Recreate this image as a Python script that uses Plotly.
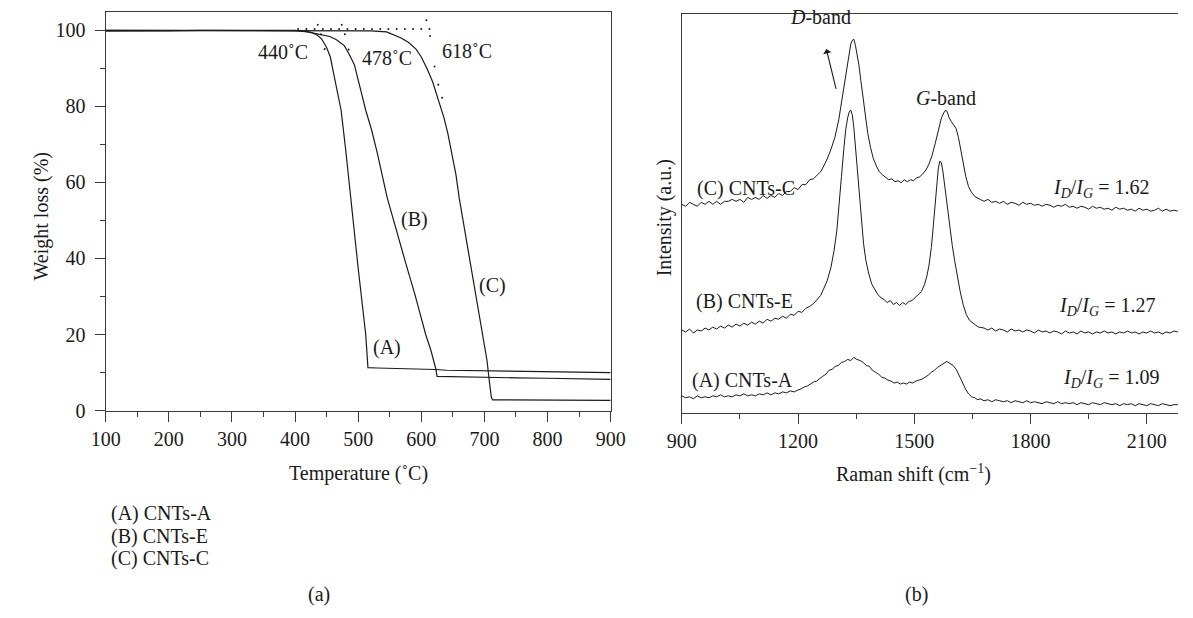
import plotly.graph_objects as go

W, H = 1193, 618
FONT = "Liberation Serif"
INK = "#1a1a1a"
AXIS = "#3a3a3a"
FS = 20

# ---------------- TGA data (panel a) ----------------
tga_a_temp = [100, 150, 200, 250, 300, 350, 380, 400, 415, 425, 435, 442, 450, 456, 462, 468,
              473, 480, 488, 500, 512, 514, 515.5, 530, 560, 590, 622, 640, 700, 760, 820, 880, 900]
tga_a_wt = [99.8, 99.8, 99.9, 100, 100, 100, 100, 100, 99.8, 99.5, 98.8, 97.8, 95.5, 93, 88, 83,
            79, 69, 56, 37.5, 20, 14, 11.3, 11.2, 11.1, 11.0, 10.8, 10.6, 10.5, 10.3, 10.2, 10.1, 10.0]

tga_b_temp = [100, 200, 300, 380, 403, 420, 440, 455, 465, 478, 485, 494, 503, 512, 521, 530,
              546, 560, 575, 590, 607, 615, 621, 623, 625, 650, 700, 750, 800, 850, 900]
tga_b_wt = [100, 100, 100, 100, 99.9, 99.6, 99.0, 98.4, 97.6, 96, 94, 91, 85, 79, 74, 68,
            56, 47.5, 39, 30.5, 20, 16, 12.4, 11, 9.0, 8.9, 8.8, 8.6, 8.5, 8.3, 8.2]

tga_c_temp = [100, 200, 300, 400, 480, 520, 545, 568, 580, 592, 600, 609, 618, 627, 636, 642,
              648, 655, 660, 670, 680, 690, 700, 704, 708, 711, 713, 750, 800, 850, 900]
tga_c_wt = [100, 100, 100, 100, 100, 99.9, 99.6, 98, 96.8, 95, 93, 90, 86.5, 82, 77, 73,
            68, 62, 56, 46.5, 37, 27.5, 17.5, 13.3, 7.5, 3.5, 2.8, 2.8, 2.75, 2.7, 2.7]

# onset construction points (extrapolated baseline and tangents)
onset_base_temp = [405, 418, 431, 444, 457, 470, 483, 496, 509, 522, 535, 548, 561, 574, 587, 600, 613]
onset_base_wt = [100.4] * len(onset_base_temp)
tangent_a_temp = [436, 441, 447]
tangent_a_wt = [101.5, 99.0, 95.1]
tangent_b_temp = [474, 479, 485]
tangent_b_wt = [101.5, 99.0, 95.0]
tangent_c_temp = [608, 614, 621, 627, 633]
tangent_c_wt = [102.7, 98.5, 90.5, 85.7, 82.3]

onset_labels = ["440˚C", "478˚C", "618˚C"]
onset_label_pos = [(381, 94.3), (545, 92.7), (672, 94.7)]
curve_tags = ["(A)", "(B)", "(C)"]
curve_tag_pos = [(546, 16.6), (590, 50.2), (713, 33.0)]
sample_names = ["(A) CNTs-A", "(B) CNTs-E", "(C) CNTs-C"]

# ---------------- Raman data (panel b): (shift cm-1, intensity a.u.) ----------------
raman_c = [
    (900, 212), (910, 210), (920, 214), (930, 212), (940, 210), (950, 214), (960, 212), (970, 215),
    (980, 212), (990, 215), (1000, 212), (1010, 215), (1020, 215), (1030, 217), (1040, 215),
    (1050, 217), (1060, 214), (1070, 219), (1080, 217), (1090, 219), (1100, 217), (1110, 221),
    (1120, 218), (1130, 221), (1140, 219), (1150, 223), (1160, 221), (1170, 225), (1180, 225),
    (1190, 229), (1200, 227), (1210, 232), (1220, 232), (1230, 237), (1240, 238), (1250, 242),
    (1258, 245), (1265, 250), (1275, 258), (1285, 268), (1295, 280), (1305, 298), (1313, 318),
    (1320, 336), (1326, 352), (1331, 366), (1336, 375), (1340, 379), (1344, 380), (1348, 374),
    (1352, 366), (1357, 354), (1362, 338), (1368, 320), (1374, 300), (1380, 284), (1387, 270),
    (1394, 259), (1402, 251), (1410, 245), (1418, 242), (1426, 239), (1434, 237), (1442, 238),
    (1450, 235), (1458, 236), (1466, 234), (1474, 237), (1482, 235), (1490, 237), (1498, 236),
    (1506, 239), (1514, 240), (1522, 243), (1530, 247), (1538, 253), (1546, 262), (1554, 274),
    (1562, 288), (1570, 300), (1576, 305), (1581, 308), (1585, 306), (1590, 300), (1596, 296),
    (1602, 293), (1608, 289), (1614, 280), (1620, 268), (1626, 254), (1633, 240), (1640, 230),
    (1648, 224), (1656, 220), (1664, 218), (1670, 217), (1680, 215), (1690, 217), (1700, 214),
    (1710, 215), (1720, 213), (1730, 215), (1740, 212), (1750, 214), (1760, 213), (1770, 211),
    (1780, 214), (1790, 212), (1800, 213), (1810, 211), (1820, 212), (1830, 210), (1840, 212),
    (1850, 211), (1860, 209), (1870, 211), (1880, 210), (1890, 212), (1900, 209), (1910, 210),
    (1920, 208), (1930, 210), (1940, 209), (1950, 207), (1960, 210), (1970, 208), (1980, 209),
    (1990, 207), (2000, 208), (2010, 206), (2020, 209), (2030, 207), (2040, 208), (2050, 206),
    (2060, 207), (2070, 205), (2080, 208), (2090, 206), (2100, 207), (2110, 205), (2120, 206),
    (2130, 208), (2140, 205), (2150, 207), (2160, 205), (2170, 206), (2180, 205),
]

raman_b = [
    (900, 84), (910, 82), (920, 85), (930, 81), (940, 84), (950, 83), (960, 86), (970, 84),
    (980, 87), (990, 85), (1000, 88), (1010, 86), (1020, 89), (1030, 87), (1040, 90), (1050, 88),
    (1060, 91), (1070, 89), (1080, 92), (1090, 90), (1100, 93), (1110, 91), (1120, 95), (1130, 93),
    (1140, 96), (1150, 95), (1160, 98), (1170, 96), (1180, 100), (1190, 99), (1200, 103),
    (1210, 102), (1220, 106), (1230, 108), (1240, 111), (1250, 115), (1258, 119), (1265, 125),
    (1275, 134), (1285, 148), (1293, 165), (1300, 185), (1306, 210), (1312, 240), (1318, 268),
    (1323, 288), (1328, 300), (1332, 306), (1336, 308), (1340, 303), (1344, 290), (1348, 270),
    (1353, 245), (1358, 218), (1363, 195), (1369, 172), (1375, 155), (1382, 142), (1390, 131),
    (1398, 125), (1406, 120), (1414, 117), (1422, 115), (1430, 112), (1438, 114), (1446, 110),
    (1454, 112), (1462, 109), (1470, 112), (1478, 110), (1486, 113), (1494, 114), (1502, 117),
    (1510, 119), (1518, 123), (1526, 130), (1532, 138), (1538, 150), (1544, 168), (1549, 190),
    (1554, 215), (1558, 235), (1562, 249), (1566, 256), (1570, 254), (1574, 245), (1578, 232),
    (1582, 218), (1587, 203), (1592, 188), (1598, 170), (1604, 155), (1610, 140), (1618, 124),
    (1626, 110), (1634, 100), (1642, 94), (1650, 91), (1658, 89), (1666, 87), (1680, 86),
    (1690, 84), (1700, 86), (1710, 83), (1720, 85), (1730, 84), (1740, 82), (1750, 85), (1760, 83),
    (1770, 84), (1780, 82), (1790, 84), (1800, 83), (1810, 81), (1820, 84), (1830, 82), (1840, 83),
    (1850, 81), (1860, 83), (1870, 82), (1880, 80), (1890, 83), (1900, 81), (1910, 82), (1920, 80),
    (1930, 83), (1940, 81), (1950, 82), (1960, 80), (1970, 82), (1980, 81), (1990, 83), (2000, 81),
    (2010, 82), (2020, 80), (2030, 82), (2040, 81), (2050, 83), (2060, 81), (2070, 82), (2080, 80),
    (2090, 82), (2100, 81), (2110, 83), (2120, 81), (2130, 82), (2140, 80), (2150, 82), (2160, 81),
    (2170, 83), (2180, 82),
]

raman_a = [
    (900, 17), (910, 15), (920, 16), (930, 14), (940, 17), (950, 15), (960, 16), (970, 15),
    (980, 17), (990, 16), (1000, 18), (1010, 16), (1020, 17), (1030, 16), (1040, 18), (1050, 17),
    (1060, 19), (1070, 17), (1080, 18), (1090, 17), (1100, 19), (1110, 18), (1120, 20), (1130, 18),
    (1140, 20), (1150, 19), (1160, 21), (1170, 20), (1180, 22), (1190, 21), (1200, 23), (1208, 24),
    (1216, 26), (1224, 27), (1232, 29), (1240, 31), (1248, 32), (1256, 35), (1264, 37), (1272, 39),
    (1280, 43), (1288, 44), (1296, 47), (1304, 48), (1312, 51), (1320, 52), (1328, 54), (1336, 53),
    (1344, 56), (1352, 54), (1360, 53), (1368, 51), (1376, 48), (1384, 47), (1392, 43), (1400, 41),
    (1408, 39), (1416, 36), (1424, 35), (1432, 33), (1440, 32), (1448, 30), (1456, 31), (1464, 29),
    (1472, 30), (1480, 29), (1488, 31), (1496, 30), (1504, 32), (1512, 33), (1520, 34), (1528, 36),
    (1536, 38), (1544, 41), (1552, 43), (1560, 46), (1568, 48), (1576, 50), (1584, 52), (1592, 50),
    (1600, 48), (1608, 44), (1616, 38), (1624, 31), (1632, 24), (1640, 19), (1648, 16), (1656, 15),
    (1664, 13), (1670, 14), (1680, 12), (1690, 13), (1700, 11), (1710, 13), (1720, 12), (1730, 11),
    (1740, 12), (1750, 10), (1760, 12), (1770, 11), (1780, 10), (1790, 12), (1800, 10), (1810, 11),
    (1820, 10), (1830, 9), (1840, 11), (1850, 10), (1860, 9), (1870, 11), (1880, 9), (1890, 10),
    (1900, 9), (1910, 10), (1920, 8), (1930, 10), (1940, 9), (1950, 8), (1960, 10), (1970, 9),
    (1980, 8), (1990, 10), (2000, 9), (2010, 8), (2020, 9), (2030, 7), (2040, 9), (2050, 8),
    (2060, 9), (2070, 7), (2080, 9), (2090, 8), (2100, 7), (2110, 9), (2120, 8), (2130, 7),
    (2140, 9), (2150, 8), (2160, 7), (2170, 8), (2180, 8),
]

ratio_values = ["1.62", "1.27", "1.09"]
ratio_pos = [(1854, 228), (1867, 108), (1879, 35)]
spectrum_names = ["(C) CNTs-C", "(B) CNTs-E", "(A) CNTs-A"]
spectrum_name_pos = [(935, 228), (931, 113), (920, 33)]

# ---------------- figure ----------------
def px_x(p):
    return p / W

def px_y(p):
    return 1 - p / H

fig = go.Figure()

line_style = dict(color=INK, width=1.2)
for t, w in [(tga_a_temp, tga_a_wt), (tga_b_temp, tga_b_wt), (tga_c_temp, tga_c_wt)]:
    fig.add_trace(go.Scatter(x=t, y=w, mode="lines", line=line_style,
                             xaxis="x", yaxis="y", showlegend=False, hoverinfo="skip"))

for t, w in [(onset_base_temp, onset_base_wt), (tangent_a_temp, tangent_a_wt),
             (tangent_b_temp, tangent_b_wt), (tangent_c_temp, tangent_c_wt)]:
    fig.add_trace(go.Scatter(x=t, y=w, mode="markers", marker=dict(color=INK, size=2),
                             xaxis="x", yaxis="y", showlegend=False, hoverinfo="skip"))

raman_line = dict(color=INK, width=1.0)
for spec in (raman_c, raman_b, raman_a):
    fig.add_trace(go.Scatter(x=[p[0] for p in spec], y=[p[1] for p in spec], mode="lines",
                             line=raman_line, xaxis="x2", yaxis="y2",
                             showlegend=False, hoverinfo="skip"))

axis_common = dict(
    showgrid=False, zeroline=False, showline=True, linecolor=AXIS, linewidth=1.3,
    ticks="outside", tickcolor=AXIS, tickwidth=1.2, ticklen=10,
    tickfont=dict(family=FONT, size=FS, color=INK),
)

fig.update_layout(
    width=W, height=H,
    margin=dict(l=0, r=0, t=0, b=0),
    paper_bgcolor="white", plot_bgcolor="white",
    font=dict(family=FONT, size=FS, color=INK),
    xaxis=dict(axis_common, domain=[px_x(93), px_x(611)], range=[100, 900],
               tickvals=[100, 200, 300, 400, 500, 600, 700, 800, 900], mirror=True,
               minor=dict(ticks="outside", ticklen=5, dtick=50, tick0=100, tickcolor=AXIS),
               anchor="y"),
    yaxis=dict(axis_common, domain=[px_y(418), px_y(12)], range=[0, 104.9],
               tickvals=[0, 20, 40, 60, 80, 100], mirror=True, ticklabelstandoff=5,
               minor=dict(ticks="outside", ticklen=5, dtick=10, tick0=0, tickcolor=AXIS),
               anchor="x"),
    xaxis2=dict(axis_common, domain=[px_x(684), 1], range=[900, 2180.5],
                tickvals=[900, 1200, 1500, 1800, 2100], mirror=True,
                minor=dict(ticks="outside", ticklen=5, dtick=150, tick0=900, tickcolor=AXIS),
                anchor="y2"),
    yaxis2=dict(axis_common, domain=[px_y(420), px_y(14)], range=[0, 406],
                showticklabels=False, ticks="", mirror=False, anchor="x2"),
)

ann = []
def text(x, y, s, xref="paper", yref="paper", xanchor="center", size=FS, **kw):
    ann.append(dict(x=x, y=y, text=s, xref=xref, yref=yref, xanchor=xanchor, yanchor="middle",
                    showarrow=False, font=dict(family=FONT, size=size, color=INK), **kw))

# panel (a) labels
for lab, (tx, ty) in zip(onset_labels, onset_label_pos):
    text(tx, ty, lab, xref="x", yref="y")
for lab, (tx, ty) in zip(curve_tags, curve_tag_pos):
    text(tx, ty, lab, xref="x", yref="y")
text(px_x(352), px_y(482), "Temperature (˚C)")
text(px_x(27), px_y(220), "Weight loss (%)", textangle=-90)
for k, name in enumerate(sample_names):
    text(px_x(96), px_y(523 + 23 * k), name, xanchor="left")
text(px_x(312), px_y(605), "(a)")

# panel (b) labels
text(px_x(922), px_y(482), "Raman shift (cm<sup>−1</sup>)")
text(px_x(666), px_y(222), "Intensity (a.u.)", textangle=-90)
text(px_x(925), px_y(605), "(b)")
text(1257, 403, "<i>D</i>-band", xref="x2", yref="y2")
text(1583, 320, "<i>G</i>-band", xref="x2", yref="y2")
for name, (tx, ty) in zip(spectrum_names, spectrum_name_pos):
    text(tx, ty, name, xref="x2", yref="y2", xanchor="left")
for val, (tx, ty) in zip(ratio_values, ratio_pos):
    text(tx, ty, "<i>I</i><sub><i>D</i></sub>/<i>I</i><sub><i>G</i></sub> = " + val,
         xref="x2", yref="y2", xanchor="left")

ann.append(dict(x=1273, y=370, ax=1299, ay=328, xref="x2", yref="y2", axref="x2", ayref="y2",
                text="", showarrow=True, arrowhead=1, arrowsize=1.3, arrowwidth=1.1,
                arrowcolor=INK))

fig.update_layout(annotations=ann)
fig.write_html("out.html")
